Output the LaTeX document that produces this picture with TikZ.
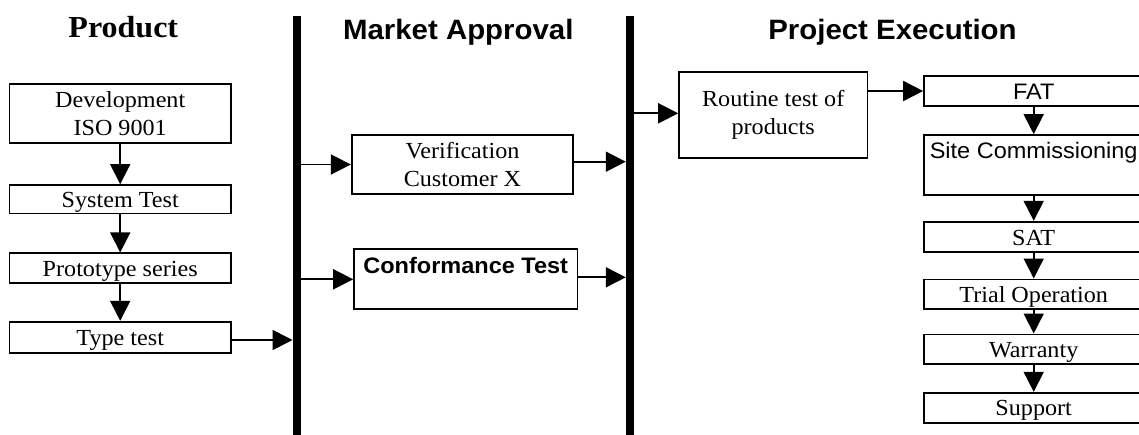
\documentclass[tikz,border=0pt]{standalone}
\usepackage{fontspec}
\setmainfont{Liberation Serif}[FakeStretch=1.05]
\setsansfont{Liberation Sans}[FakeStretch=1.05]
\usetikzlibrary{arrows.meta,calc}
\newcommand\bodyserif{\rmfamily\fontsize{23pt}{28pt}\selectfont}
\newcommand\bodysans{\sffamily\fontsize{22.4pt}{28pt}\selectfont}
\newcommand\titleserif{\rmfamily\bfseries\fontsize{30.5pt}{34pt}\selectfont}
\newcommand\titlesans{\sffamily\bfseries\fontsize{28pt}{32pt}\selectfont}
\begin{document}
\begin{tikzpicture}[x=1pt,y=-1pt,
  box/.style={draw,line width=1.7pt,inner sep=0pt,font=\bodyserif,align=center},
  sbox/.style={box,font=\bodysans},
  sl/.style={text height=16pt,text depth=0pt},
  colA/.style={minimum width=221.7pt},
  colC/.style={minimum width=219.4pt},
  bar/.style={fill=black,inner sep=0pt,minimum width=8pt,minimum height=420pt},
  arr/.style={line width=1.7pt,-{Triangle[length=20pt,width=20pt]}},
  ttl/.style={anchor=base,inner sep=0pt}]
\clip (0,0) rectangle (1139,434);
\fill[white] (0,0) rectangle (1139,434);

% titles
\node[ttl,font=\titleserif] (tprod) at (123.3,37.7) {Product};
\node[ttl,font=\titlesans] (tmark) at (458.3,39.3) {Market Approval};
\node[ttl,font=\titlesans] (tproj) at (892.5,39.3) {Project Execution};

% bars
\node[bar] (barL) at (296.7,226) {};
\node[bar] (barM) at (630,226) {};

% product column
\node[box,colA,minimum height=59pt] (dev) at (120.2,113.8) {Development\\ISO 9001};
\node[box,colA,sl,minimum height=28.3pt] (sys) at (120.2,199.2) {System Test};
\node[box,colA,sl,minimum height=29.4pt] (proto) at (120.2,268) {Prototype series};
\node[box,colA,sl,minimum height=31pt] (tt) at (120.2,337.2) {Type test};

% market approval
\node[box,minimum width=221.6pt,minimum height=59pt] (ver) at (462.5,164.5) {Verification\\Customer X};
\node[sbox,font=\bodysans\bfseries,minimum width=223.3pt,minimum height=60pt,text height=16pt,text depth=28pt] (conf) at (465.7,279.3) {Conformance Test};

% project execution
\node[box,minimum width=188.3pt,minimum height=86pt] (rt) at (773.2,115) {Routine test of\\products};
\node[sbox,colC,sl,minimum height=30pt] (fat) at (1033.7,91) {FAT};
\node[sbox,colC,minimum height=60pt,text height=16pt,text depth=29.4pt] (site) at (1033.7,165) {Site Commissioning};
\node[box,colC,sl,minimum height=30.6pt] (sat) at (1033.7,237) {SAT};
\node[box,colC,sl,minimum height=29.7pt] (trial) at (1033.7,294.2) {Trial Operation};
\node[box,colC,sl,minimum height=29.7pt] (war) at (1033.7,349.2) {Warranty};
\node[box,colC,sl,minimum height=30pt] (sup) at (1033.7,407.7) {Support};

% connectors
\draw[arr] (dev.south) -- (sys.north);
\draw[arr] (sys.south) -- (proto.north);
\draw[arr] (proto.south) -- (tt.north);
\draw[arr] ($(tt.east)+(0,2.8)$) -- ($(barL.west |- tt.east)+(0,2.8)$);
\draw[arr] (barL.east |- ver.west) -- (ver.west);
\draw[arr] ($(ver.east)+(0,-2.8)$) -- ($(barM.west |- ver.east)+(0,-2.8)$);
\draw[arr] (barL.east |- conf.west) -- (conf.west);
\draw[arr] ($(conf.east)+(0,-2)$) -- ($(barM.west |- conf.east)+(0,-2)$);
\draw[arr] ($(barM.east |- rt.west)+(0,-1.7)$) -- ($(rt.west)+(0,-1.7)$);
\draw[arr] (rt.east |- fat.west) -- (fat.west);
\draw[arr] (fat.south) -- (site.north);
\draw[arr] (site.south) -- (sat.north);
\draw[arr] (sat.south) -- (trial.north);
\draw[arr] (trial.south) -- (war.north);
\draw[arr] (war.south) -- (sup.north);
\end{tikzpicture}
\end{document}
